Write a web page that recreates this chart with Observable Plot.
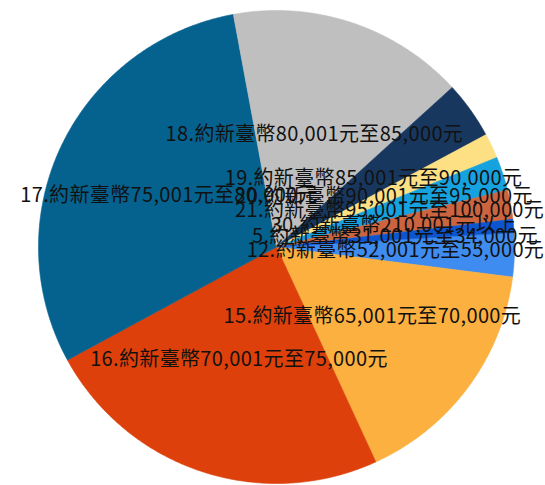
<!DOCTYPE html>
<html><head><meta charset="utf-8">
<script src="https://cdn.jsdelivr.net/npm/d3@7"></script>
<script src="https://cdn.jsdelivr.net/npm/@observablehq/plot@0.6"></script>
<style>body{margin:0;background:#fff}</style>
</head><body><div id="chart"></div>
<script>
const labels = [
  "12.約新臺幣52,001元至55,000元",
  "15.約新臺幣65,001元至70,000元",
  "16.約新臺幣70,001元至75,000元",
  "17.約新臺幣75,001元至80,000元",
  "18.約新臺幣80,001元至85,000元",
  "19.約新臺幣85,001元至90,000元",
  "20.約新臺幣90,001元至95,000元",
  "21.約新臺幣95,001元至100,000元",
  "30.約新臺幣210,001元以上",
  "5.約新臺幣31,001元至34,000元"
];
const values = [3.0, 16.1, 23.9, 30.0, 16.1, 3.9, 1.7, 2.3, 2.0, 0.9];
const colors = ["#3f8cf0", "#fbb040", "#de400b", "#05628f", "#bfbfbf", "#18375f", "#fde083", "#16a2de", "#cc653f", "#0b56d0"];
const startDeg = 86.5;

const total = d3.sum(values);
const poly = [];
const rows = [];
let acc = 0;
labels.forEach((lab, i) => {
  const a0 = (startDeg + acc / total * 360) * Math.PI / 180;
  acc += values[i];
  const a1 = (startDeg + acc / total * 360) * Math.PI / 180;
  const n = Math.max(2, Math.ceil((a1 - a0) / (Math.PI / 360)));
  poly.push({label: lab, x: 0, y: 0});
  for (let k = 0; k <= n; k++) {
    const a = a0 + (a1 - a0) * k / n;
    poly.push({label: lab, x: Math.sin(a), y: Math.cos(a)});
  }
  poly.push({label: lab, x: 0, y: 0});
  const am = (a0 + a1) / 2;
  rows.push({label: lab, x: 0.5 * Math.sin(am), y: 0.5 * Math.cos(am)});
});

const chart = Plot.plot({
  width: 545, height: 485,
  marginLeft: 38, marginRight: 31, marginTop: 10, marginBottom: 2,
  x: {domain: [-1, 1], axis: null},
  y: {domain: [-1, 1], axis: null},
  color: {domain: labels, range: colors},
  style: {fontFamily: "'Noto Sans CJK TC', 'Noto Sans', sans-serif", background: "white", letterSpacing: "0.35px"},
  marks: [
    Plot.line(poly, {x: "x", y: "y", z: "label", fill: "label", stroke: "label", strokeWidth: 0.6, curve: "linear"}),
    Plot.text(rows, {x: "x", y: "y", text: "label", fontSize: 20, fill: "#111"})
  ]
});
document.getElementById("chart").appendChild(chart);
</script>
</body></html>
